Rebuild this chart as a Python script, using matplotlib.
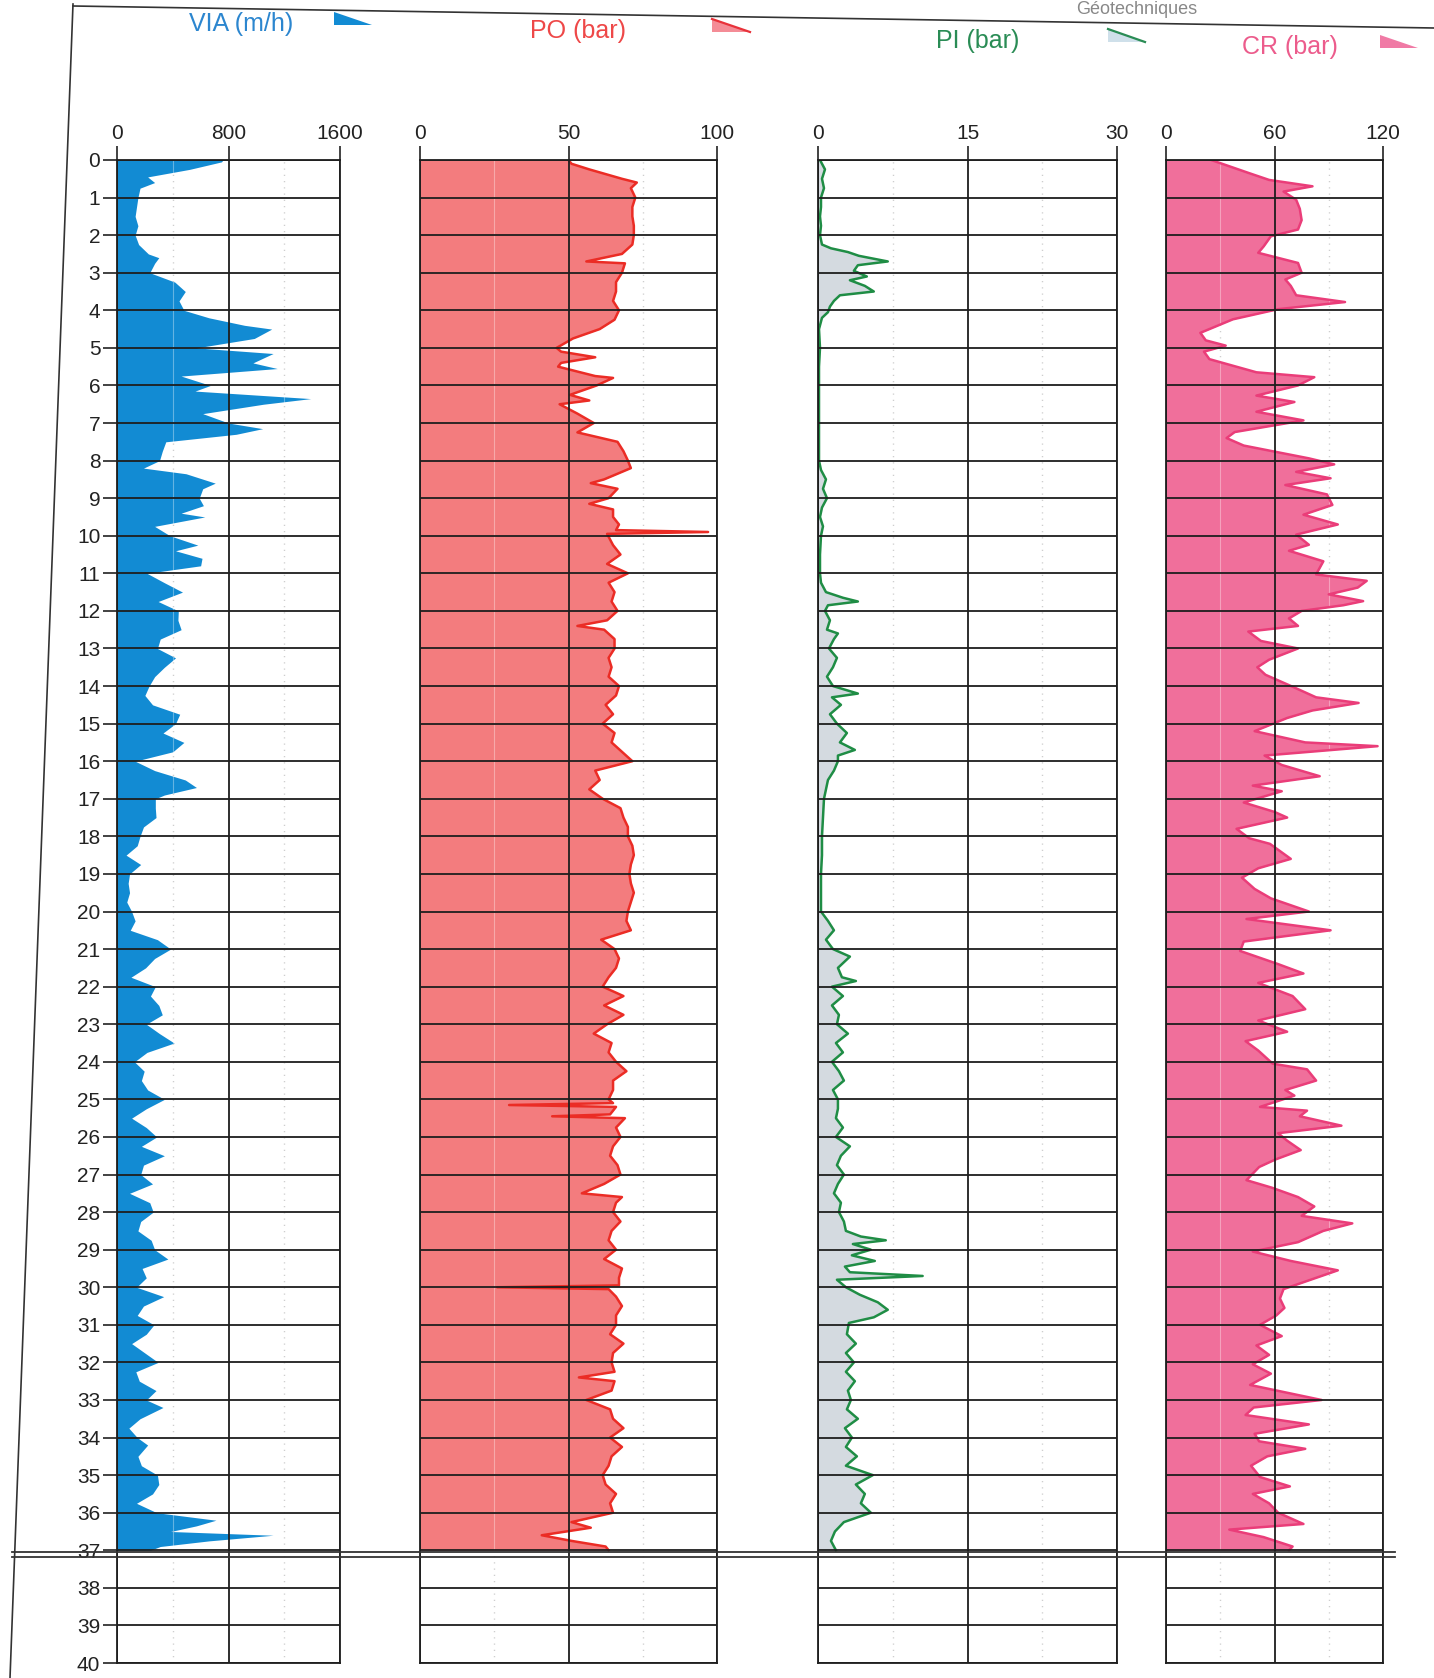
import matplotlib
matplotlib.use("Agg")
import matplotlib.pyplot as plt
import matplotlib.transforms as mtransforms
from matplotlib.patches import Polygon
from matplotlib.lines import Line2D
from matplotlib import font_manager as fm

# --- data (depth in m) ---
VIA_DEPTH = [0.0, 0.05, 0.25, 0.45, 0.6, 0.75, 1.0, 1.25, 1.5, 1.75, 2.0, 2.25, 2.5, 2.6, 2.75, 3.0, 3.25, 3.5, 3.75, 4.0,
             4.2, 4.4, 4.5, 4.75, 5.0, 5.15, 5.4, 5.55, 5.75, 6.0, 6.15, 6.35, 6.5, 6.75, 7.0, 7.15, 7.3, 7.5, 7.75, 8.0,
             8.2, 8.35, 8.6, 8.75, 9.0, 9.2, 9.4, 9.5, 9.75, 10.0, 10.25, 10.4, 10.6, 10.8, 11.0, 11.25, 11.5, 11.75, 12.0,
             12.25, 12.5, 12.75, 13.0, 13.25, 13.5, 13.75, 14.0, 14.25, 14.5, 14.75, 15.0, 15.25, 15.5, 15.75, 16.0,
             16.25, 16.5, 16.7, 16.9, 17.0, 17.25, 17.5, 17.75, 18.0, 18.25, 18.5, 18.75, 19.0, 19.25, 19.5, 19.75, 20.0,
             20.25, 20.5, 20.75, 21.0, 21.25, 21.5, 21.75, 22.0, 22.25, 22.5, 22.75, 23.0, 23.25, 23.5, 23.75, 24.0,
             24.25, 24.5, 24.75, 25.0, 25.25, 25.5, 25.75, 26.0, 26.25, 26.5, 26.75, 27.0, 27.25, 27.5, 27.75, 28.0,
             28.25, 28.5, 28.75, 29.0, 29.25, 29.5, 29.75, 30.0, 30.25, 30.5, 30.75, 31.0, 31.25, 31.5, 31.75, 32.0,
             32.25, 32.5, 32.75, 33.0, 33.2, 33.5, 33.75, 34.0, 34.2, 34.5, 34.75, 35.0, 35.25, 35.5, 35.75, 36.0,
             36.2, 36.35, 36.5, 36.6, 36.75, 36.9, 37.0]
VIA = [760, 750, 520, 220, 270, 165, 150, 140, 130, 150, 130, 155, 225, 300, 270, 235, 415, 490, 445, 480,
       660, 915, 1110, 985, 570, 1120, 975, 1150, 460, 670, 560, 1390, 1050, 615, 800, 1045, 855, 350, 325, 305,
       190, 495, 705, 615, 590, 620, 460, 630, 270, 380, 580, 420, 610, 600, 215, 340, 470, 295, 440,
       437, 460, 310, 290, 420, 340, 270, 230, 200, 255, 450, 420, 330, 480, 400, 130,
       270, 490, 570, 340, 275, 275, 280, 190, 165, 145, 65, 170, 90, 80, 90, 70, 105,
       130, 95, 290, 385, 270, 205, 100, 275, 240, 300, 325, 210, 305, 410, 215, 125,
       195, 175, 220, 340, 210, 105, 210, 285, 175, 340, 190, 170, 255, 90, 235, 260,
       170, 150, 245, 270, 365, 180, 210, 140, 335, 190, 145, 265, 210, 105, 200, 295,
       135, 160, 280, 210, 330, 165, 85, 145, 220, 150, 175, 290, 300, 255, 140, 285,
       710, 570, 385, 1120, 660, 310, 240]

PO_DEPTH = [0.0, 0.1, 0.25, 0.5, 0.6, 0.75, 1.0, 1.25, 1.5, 1.75, 2.0, 2.25, 2.5, 2.7, 2.75, 3.0, 3.25, 3.5, 3.75, 4.0,
            4.25, 4.5, 4.75, 5.0, 5.1, 5.25, 5.4, 5.5, 5.75, 5.8, 6.0, 6.25, 6.4, 6.5, 6.75, 7.0, 7.25, 7.5, 7.75, 8.0,
            8.2, 8.5, 8.6, 8.75, 9.0, 9.15, 9.3, 9.5, 9.7, 9.85, 9.9, 9.95, 10.25, 10.5, 10.75, 11.0, 11.25, 11.5, 11.75,
            12.0, 12.25, 12.4, 12.5, 12.75, 13.0, 13.25, 13.5, 13.75, 14.0, 14.25, 14.5, 14.75, 15.0, 15.25, 15.5, 15.75,
            16.0, 16.25, 16.5, 16.75, 17.0, 17.25, 17.5, 17.75, 18.0, 18.25, 18.5, 18.75, 19.0, 19.25, 19.5, 19.75, 20.0,
            20.25, 20.5, 20.75, 21.0, 21.25, 21.5, 21.75, 22.0, 22.25, 22.5, 22.75, 23.0, 23.25, 23.5, 23.75, 24.0,
            24.25, 24.5, 24.75, 25.0, 25.1, 25.15, 25.2, 25.4, 25.45, 25.5, 25.75, 26.0, 26.25, 26.5, 26.75, 27.0,
            27.25, 27.5, 27.6, 27.75, 28.0, 28.25, 28.5, 28.75, 29.0, 29.25, 29.5, 29.75, 29.95, 30.0, 30.05, 30.25,
            30.5, 30.75, 31.0, 31.25, 31.5, 31.75, 32.0, 32.25, 32.4, 32.5, 32.75, 33.0, 33.25, 33.5, 33.75, 34.0,
            34.25, 34.5, 34.75, 35.0, 35.25, 35.5, 35.75, 36.0, 36.25, 36.4, 36.6, 36.75, 36.9, 37.0]
PO = [50, 51, 57, 68, 73, 71, 72.5, 71.5, 71.5, 72, 72, 71.5, 68, 56, 69, 68, 66, 66, 65, 67,
      65.5, 60.5, 51.5, 46, 47.5, 59, 47.5, 46.5, 59, 65, 59.5, 50.5, 57, 47, 53, 58.5, 53, 66.5, 68.5, 70,
      71, 62, 57.5, 66.5, 63.5, 57, 65, 65, 67, 66, 97, 63, 65, 67.5, 63, 70, 63.5, 65.5, 64.5,
      66.5, 63, 53, 62, 65.5, 65.5, 63.5, 64.5, 63.5, 67, 66, 62.5, 65, 61.5, 65.5, 64.5, 68,
      71.5, 59, 60.5, 57, 61.5, 67.5, 68.5, 70, 70, 71.5, 72, 71, 70.5, 71, 72, 71, 70,
      69.5, 71, 61, 65.5, 67, 66, 63.5, 61.5, 68.5, 62, 68.5, 63, 58.5, 64.5, 63.5, 66,
      69.5, 65, 65, 63.5, 65, 30, 66, 64, 44.5, 69, 66, 67.5, 65, 64, 66.5, 67.5,
      62, 54.5, 68, 66, 65, 67.5, 64.5, 63.5, 66, 62, 68, 67, 67, 26, 63.5, 66,
      68, 66, 66, 64, 68.5, 65, 64.5, 65.5, 53.5, 65.5, 64.5, 56, 64, 65, 68.5, 64,
      68, 64.5, 63.5, 61.5, 62.5, 66, 64, 65, 51, 57.5, 41, 51, 62.5, 63.5]

PI_DEPTH = [0.0, 0.25, 0.5, 0.75, 1.0, 1.25, 1.5, 1.75, 2.0, 2.25, 2.35, 2.45, 2.55, 2.7, 2.8, 2.95, 3.1, 3.2, 3.35, 3.5,
            3.6, 3.75, 3.9, 4.05, 4.2, 4.5, 5.0, 5.5, 6.0, 6.5, 7.0, 7.5, 8.0, 8.25, 8.5, 8.75, 9.0, 9.25, 9.5, 9.75,
            10.0, 10.5, 11.0, 11.25, 11.5, 11.65, 11.75, 11.85, 12.0, 12.25, 12.5, 12.6, 12.75, 13.0, 13.25, 13.5,
            13.75, 14.0, 14.2, 14.3, 14.5, 14.75, 15.0, 15.25, 15.5, 15.7, 15.85, 16.0, 16.25, 16.5, 16.75, 17.0,
            17.5, 18.0, 18.5, 19.0, 19.5, 20.0, 20.25, 20.5, 20.75, 21.0, 21.2, 21.5, 21.75, 21.85, 22.0, 22.25,
            22.5, 22.75, 23.0, 23.25, 23.5, 23.75, 24.0, 24.25, 24.5, 24.75, 25.0, 25.25, 25.5, 25.75, 26.0, 26.25,
            26.5, 26.75, 27.0, 27.25, 27.5, 27.75, 28.0, 28.25, 28.5, 28.65, 28.75, 28.85, 29.0, 29.15, 29.3, 29.45,
            29.6, 29.7, 29.8, 30.0, 30.2, 30.4, 30.6, 30.8, 30.95, 31.25, 31.5, 31.75, 32.0, 32.25, 32.5, 32.75,
            33.0, 33.25, 33.5, 33.75, 34.0, 34.25, 34.5, 34.75, 35.0, 35.25, 35.5, 35.75, 36.0, 36.25, 36.5, 36.75, 37.0]
PI = [0.2, 0.7, 0.4, 0.6, 0.3, 0.3, 0.2, 0.3, 0.2, 0.4, 1.3, 3.0, 4.1, 7.0, 4.0, 3.6, 4.9, 3.2, 4.7, 5.6,
      2.2, 1.6, 1.2, 1.0, 0.4, 0.1, 0.2, 0.1, 0.1, 0.1, 0.1, 0.1, 0.1, 0.3, 0.8, 0.5, 0.9, 0.4, 0.2, 0.5,
      0.3, 0.2, 0.2, 0.3, 0.8, 2.5, 4.0, 1.0, 0.7, 1.2, 0.9, 2.0, 1.6, 1.1, 1.9, 1.5,
      0.9, 1.5, 4.0, 1.4, 2.3, 1.2, 1.9, 2.9, 2.2, 3.7, 2.0, 2.0, 1.6, 1.0, 0.8, 0.6,
      0.5, 0.4, 0.4, 0.3, 0.3, 0.3, 1.0, 1.6, 0.8, 1.5, 3.2, 2.0, 2.4, 3.8, 1.4, 2.5,
      1.4, 2.1, 1.9, 3.0, 1.8, 2.5, 1.4, 2.1, 2.6, 1.5, 2.0, 2.0, 1.8, 2.5, 1.8, 3.2,
      2.3, 1.9, 2.6, 2.0, 1.6, 2.3, 2.1, 2.6, 2.8, 4.3, 6.8, 3.5, 5.3, 3.4, 5.7, 2.7,
      3.2, 10.5, 1.9, 2.8, 4.2, 6.0, 7.0, 5.6, 3.1, 2.9, 3.8, 2.8, 3.6, 2.8, 3.7, 3.0,
      3.3, 2.9, 4.0, 2.7, 3.4, 2.8, 3.9, 2.8, 5.5, 3.8, 4.7, 4.3, 5.3, 2.6, 1.7, 1.3, 1.8]

CR_DEPTH = [0.0, 0.2, 0.35, 0.53, 0.7, 0.84, 1.06, 1.3, 1.6, 1.85, 2.03, 2.3, 2.47, 2.74, 3.0, 3.18, 3.35, 3.6, 3.78,
            3.97, 4.24, 4.6, 4.8, 4.94, 5.1, 5.3, 5.65, 5.78, 6.0, 6.27, 6.44, 6.7, 6.93, 7.24, 7.4, 7.6, 7.94, 8.1,
            8.3, 8.47, 8.65, 8.9, 9.18, 9.44, 9.7, 9.97, 10.24, 10.4, 10.68, 11.03, 11.2, 11.38, 11.56, 11.74, 11.85,
            12.0, 12.2, 12.4, 12.55, 12.8, 13.0, 13.3, 13.5, 13.7, 14.05, 14.3, 14.45, 14.65, 14.85, 15.2, 15.5, 15.6,
            15.85, 16.1, 16.4, 16.65, 16.8, 17.1, 17.35, 17.5, 17.8, 18.05, 18.2, 18.6, 18.85, 19.1, 19.4, 19.65,
            20.0, 20.2, 20.5, 20.8, 21.05, 21.4, 21.65, 21.9, 22.25, 22.6, 22.9, 23.2, 23.45, 23.7, 24.05, 24.2,
            24.5, 24.75, 24.9, 25.2, 25.3, 25.45, 25.7, 25.9, 26.1, 26.35, 26.6, 26.8, 27.15, 27.35, 27.6, 27.85,
            28.1, 28.3, 28.5, 28.8, 29.05, 29.3, 29.55, 29.75, 30.05, 30.3, 30.55, 30.75, 31.0, 31.3, 31.55, 31.8,
            32.05, 32.3, 32.6, 33.0, 33.2, 33.4, 33.65, 33.9, 34.1, 34.3, 34.5, 34.75, 35.05, 35.3, 35.5, 35.75,
            36.0, 36.3, 36.45, 36.65, 36.9, 37.0]
CR = [25, 37, 46, 57, 81, 65, 72, 74, 75, 73, 58, 54, 51, 73, 75, 66, 69, 72, 99,
      62, 37, 19, 22, 33, 21, 24, 50, 82, 73, 50, 71, 50, 76, 38, 33.5, 43, 79, 93,
      72, 91, 66, 89, 92, 76, 95, 72, 79, 68, 87, 83, 111, 106, 90, 109, 98,
      75, 68, 73, 45.5, 52.5, 73, 57, 50.5, 55, 71.5, 83, 106.5, 81, 67, 49, 77, 117,
      54.5, 64, 85, 48, 64, 43, 60, 67, 39, 46, 57.5, 69, 51, 42, 49, 58,
      79, 44.5, 91, 43, 41, 62, 76, 51, 70, 77, 51, 67, 44, 51, 59, 78,
      83, 66, 71, 52, 78, 74, 97, 62, 67, 74.5, 60.5, 51.5, 44.5, 58.5, 73, 82,
      75, 103, 87, 73, 48, 69, 95, 83, 65, 63, 65.5, 61, 52, 64, 50, 57,
      48, 58, 46.5, 86, 48.5, 44, 79, 49, 51.5, 77, 56, 47, 52, 68.5, 48, 57,
      62, 76, 35, 54, 70, 68]

# panel axis ranges and labels
VIA_TICKS, PO_TICKS, PI_TICKS, CR_TICKS = [0, 800, 1600], [0, 50, 100], [0, 15, 30], [0, 60, 120]
TITLES = ["VIA (m/h)", "PO (bar)", "PI (bar)", "CR (bar)"]
DEPTH_TICKS = list(range(0, 41))
END_DEPTH = 37.05

W, H = 1434, 1678
TOP, BOT = 160, 1663  # pixel rows of depth 0 and depth 40

names = {f.name for f in fm.fontManager.ttflist}
plt.rcParams["font.family"] = ["Liberation Sans Narrow" if "Liberation Sans Narrow" in names else "Liberation Sans", "DejaVu Sans"]

fig = plt.figure(figsize=(W / 100, H / 100), dpi=100)

panels = [
    dict(d=VIA_DEPTH, v=VIA, ticks=VIA_TICKS, x=(117, 340), fill="#128bd3", line=None,
         tcol="#2c86cf", tx=241, ty=24, tri=(334, 372), tfill="#128bd3", tline=None),
    dict(d=PO_DEPTH, v=PO, ticks=PO_TICKS, x=(420, 717), fill="#f37c7e", line="#eb2c25",
         tcol="#ee4848", tx=578, ty=31, tri=(712, 750), tfill="#f48c96", tline="#e8323a"),
    dict(d=PI_DEPTH, v=PI, ticks=PI_TICKS, x=(818, 1117), fill="#d4dae0", line="#1f8d45",
         tcol="#2a8c55", tx=978, ty=41, tri=(1108, 1145), tfill="#cfe0ea", tline="#2a8c55"),
    dict(d=CR_DEPTH, v=CR, ticks=CR_TICKS, x=(1166, 1383), fill="#f06f9b", line="#ea3d79",
         tcol="#ec5c8c", tx=1290, ty=47, tri=(1380, 1418), tfill="#f07aa5", tline=None),
]

axes = []
for i, p in enumerate(panels):
    x0, x1 = p["x"]
    ax = fig.add_axes([x0 / W, (H - BOT) / H, (x1 - x0) / W, (BOT - TOP) / H])
    axes.append(ax)
    lo, hi = p["ticks"][0], p["ticks"][-1]
    ax.fill_betweenx(p["d"], 0, p["v"], color=p["fill"], lw=0, zorder=1)
    if p["line"]:
        ax.plot(p["v"], p["d"], color=p["line"], lw=1.8, zorder=2)
    # faint quarter lines
    for q in [(lo + p["ticks"][1]) / 2, (p["ticks"][1] + hi) / 2]:
        ax.axvline(q, color="#b5b5b5", ls=(0, (1, 4)), lw=0.9, zorder=0.5)
        ax.axvline(q, color="white", lw=0.8, alpha=0.35, zorder=1.5)
    ax.set_xlim(lo, hi)
    ax.set_ylim(40, 0)
    ax.set_xticks(p["ticks"])
    ax.set_yticks(DEPTH_TICKS)
    ax.xaxis.tick_top()
    ax.grid(True, color="#1e1e1e", lw=1.3)
    ax.set_axisbelow(False)
    ax.tick_params(axis="x", length=10, width=1.2, pad=2, labelsize=15, colors="#222222")
    if i == 0:
        ax.tick_params(axis="y", length=10, width=1.2, pad=2, labelsize=15, colors="#222222")
    else:
        ax.tick_params(axis="y", left=False, labelleft=False)
    for s in ax.spines.values():
        s.set_linewidth(1.3)
        s.set_color("#1e1e1e")

    # header and small legend wedge
    ty = p["ty"]
    fig.text(p["tx"] / W, 1 - ty / H, TITLES[i], color=p["tcol"], fontsize=18, ha="center", va="center")
    t0, t1 = p["tri"]
    tri = [(t0 / W, 1 - (ty - 12) / H), (t1 / W, 1 - (ty + 1) / H), (t0 / W, 1 - (ty + 1) / H)]
    fig.add_artist(Polygon(tri, closed=True, transform=fig.transFigure, facecolor=p["tfill"], edgecolor="none"))
    if p["tline"]:
        fig.add_artist(Line2D([t0 / W, t1 / W], [1 - (ty - 12) / H, 1 - (ty + 1) / H], transform=fig.transFigure,
                              color=p["tline"], lw=1.6))

# end of borehole: double line across all tracks
tr = mtransforms.blended_transform_factory(fig.transFigure, axes[0].transData)
for dd in (END_DEPTH, END_DEPTH + 0.12):
    fig.add_artist(Line2D([12 / W, 1395 / W], [dd, dd], transform=tr, color="#333333", lw=1.3))

# page frame of the scanned sheet (slightly skewed like the scan)
fig.add_artist(Line2D([73 / W, 10 / W], [1 - 4 / H, 0], transform=fig.transFigure, color="#333333", lw=1.2))
fig.add_artist(Line2D([73 / W, 1], [1 - 6 / H, 1 - 28 / H], transform=fig.transFigure, color="#333333", lw=1.2))
fig.text(1137 / W, 1 - 0.5 / H, "Géotechniques", color="#888888", fontsize=13, ha="center", va="top")

fig.savefig("out.png", dpi=100)
